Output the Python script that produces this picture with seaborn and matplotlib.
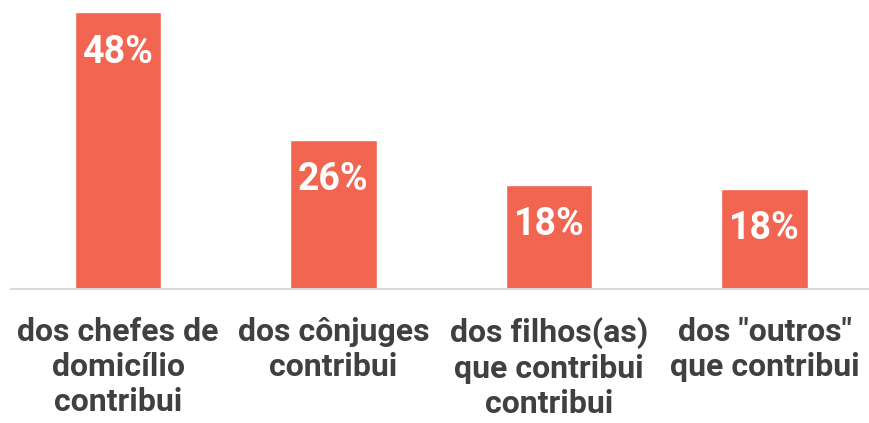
import matplotlib
matplotlib.use("Agg")
import matplotlib.pyplot as plt
import seaborn as sns
import pandas as pd

categories = ["dos chefes de\ndomicílio\ncontribui", "dos cônjuges\ncontribui",
              "dos filhos(as)\nque contribui\ncontribui", "dos \"outros\"\nque contribui"]
values = [48.0, 25.9, 18.1, 17.4]
labels = ["48%", "26%", "18%", "18%"]

sns.set_theme(style="white")
plt.rcParams['font.family'] = ['Roboto', 'DejaVu Sans']

df = pd.DataFrame({"cat": categories, "val": values})

fig = plt.figure(figsize=(8.69, 4.23), dpi=100)
ax = fig.add_axes([11/869, 134/423, 1 - 11/869, 1 - 134/423])
sns.barplot(data=df, x="cat", y="val", color="#F26651", saturation=1, width=0.4, ax=ax)
ax.set_xlim(-0.497, 3.485)
ax.set_ylim(0, 48 * 289 / 276.7)
for s in ["top", "right", "left"]:
    ax.spines[s].set_visible(False)
ax.spines["bottom"].set_color("#D9D9D9")
ax.spines["bottom"].set_linewidth(1.5)
ax.set_yticks([])
ax.set_xlabel("")
ax.set_ylabel("")
ax.tick_params(axis="x", length=0, pad=20)
for t in ax.get_xticklabels():
    t.set_fontsize(23)
    t.set_fontweight("bold")
    t.set_color("#404040")
    t.set_linespacing(1.22)
for i, (v, l) in enumerate(zip(values, labels)):
    ax.annotate(l, (i, v), xytext=(0, -29), textcoords="offset points",
                ha="center", va="center", color="white", fontsize=27, fontweight="bold")
fig.savefig("out.png", dpi=100)
